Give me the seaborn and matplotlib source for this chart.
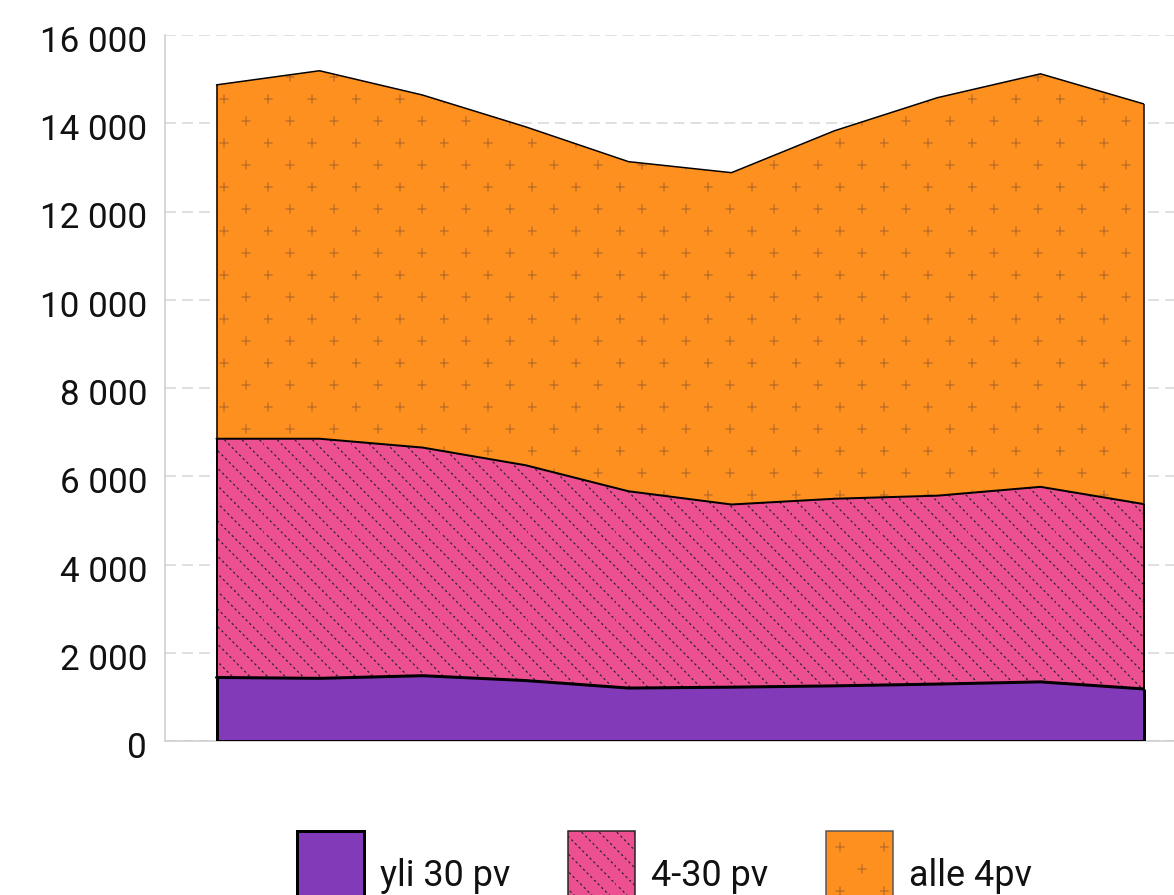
import numpy as np
import pandas as pd
import matplotlib
matplotlib.use("Agg")
import matplotlib.pyplot as plt
import matplotlib.hatch as mhatch
import matplotlib.transforms as mtransforms
from matplotlib.path import Path
from matplotlib.patches import Patch, Rectangle
from matplotlib.legend_handler import HandlerPatch
from matplotlib.ticker import FuncFormatter, FixedLocator, NullLocator
from matplotlib.colors import to_rgba
import seaborn as sns

# ---------------- data ----------------
periods = list(range(1, 11))
series_names = ["yli 30 pv", "4-30 pv", "alle 4pv"]
yli30 = [1440, 1420, 1480, 1370, 1200, 1220, 1250, 1290, 1340, 1180]
d4_30 = [5410, 5430, 5170, 4880, 4460, 4140, 4240, 4270, 4420, 4190]
alle4 = [8020, 8340, 7990, 7670, 7470, 7520, 8340, 9020, 9360, 9070]
y_ticks = [0, 2000, 4000, 6000, 8000, 10000, 12000, 14000, 16000]

# ---------------- style ----------------
fill_colors = ["#823AB9", "#EC5090", "#FE901F"]
hatches = [None, "\\", "*"]
hatch_colors = ["#000000", "#2b2430", "#B96B26"]
DPI = 88
TILE = int(DPI)
PX = 72.0 / DPI  # points per pixel
outline_px = [3.0, 2.0, 1.5]


# custom hatch patterns (small staggered plus signs / dotted diagonals)
class PlusHatch(mhatch.HatchPatternBase):
    centers = [(4, 11), (48, 11), (26, 33), (70, 33),
               (4, 55), (48, 55), (26, 77), (70, 77)]
    arm = 4.0

    def __init__(self, hatch, density):
        self.num_vertices = 4 * len(self.centers) if "*" in hatch else 0

    def set_vertices_and_codes(self, vertices, codes):
        pts = []
        a = self.arm
        for cx, cy in self.centers:
            pts += [(cx - a, cy), (cx + a, cy), (cx, cy - a), (cx, cy + a)]
        pts = np.array(pts, dtype=float) / TILE
        vertices[:, 0] = pts[:, 0]
        vertices[:, 1] = 1.0 - pts[:, 1]
        codes[0::2] = Path.MOVETO
        codes[1::2] = Path.LINETO


class DotDiagHatch(mhatch.HatchPatternBase):
    n_lines = 5
    n_dots = 24
    shift = 13.4

    def __init__(self, hatch, density):
        self.num_vertices = 2 * self.n_lines * self.n_dots if "\\" in hatch else 0

    def set_vertices_and_codes(self, vertices, codes):
        pts = []
        for k in range(self.n_lines):
            for j in range(self.n_dots):
                py = j * TILE / self.n_dots + 0.3
                px = (py + self.shift + k * TILE / self.n_lines) % TILE
                pts += [(px, py), (px + 0.8, py + 0.8)]
        pts = np.array(pts, dtype=float) / TILE
        vertices[:, 0] = pts[:, 0]
        vertices[:, 1] = 1.0 - pts[:, 1]
        codes[0::2] = Path.MOVETO
        codes[1::2] = Path.LINETO


mhatch._hatch_types = [mhatch.HorizontalHatch, mhatch.VerticalHatch,
                       mhatch.NorthEastHatch, DotDiagHatch,
                       mhatch.SmallCircles, mhatch.LargeCircles,
                       mhatch.SmallFilledCircles, PlusHatch]

sns.set_theme(style="white")
plt.rcParams["font.family"] = ["Roboto", "DejaVu Sans"]
plt.rcParams["hatch.linewidth"] = 1.0

W, H = 1174, 895
fig = plt.figure(figsize=(W / DPI, H / DPI), dpi=DPI)
ax = fig.add_axes([165 / W, 1 - 741 / H, 1030 / W, 706 / H])

x = np.arange(len(periods))
values = [np.array(yli30), np.array(d4_30), np.array(alle4)]
lowers, uppers = [], []
base = np.zeros(len(periods))
for v in values:
    lowers.append(base.copy())
    base = base + v
    uppers.append(base.copy())


def set_hatch_color(artist, color):
    if hasattr(artist, "set_hatchcolor"):
        try:
            artist.set_hatchcolor(color)
            return
        except Exception:
            pass
    artist._hatch_color = to_rgba(color)


# fills (drawn top series first)
for i in [2, 1, 0]:
    coll = ax.fill_between(x, lowers[i], uppers[i], facecolor=fill_colors[i],
                           edgecolor="none", linewidth=0, hatch=hatches[i],
                           zorder=2)
    set_hatch_color(coll, hatch_colors[i])

# outlines
for i in [2, 1, 0]:
    lw = outline_px[i] * PX
    df = pd.DataFrame({"x": x, "y": uppers[i]})
    sns.lineplot(data=df, x="x", y="y", color="black", linewidth=lw, ax=ax,
                 zorder=4 + (2 - i), legend=False)
    ax.vlines([x[0], x[-1]], [lowers[i][0], lowers[i][-1]],
              [uppers[i][0], uppers[i][-1]], color="black", linewidth=lw,
              zorder=4 + (2 - i))
ax.plot([x[0], x[-1]], [0, 0], color="black", linewidth=outline_px[0] * PX,
        zorder=7, solid_capstyle="projecting")

# axes styling
ax.set_xlim(-0.5, 9.5)
ax.set_ylim(0, 16000)
ax.set_xlabel("")
ax.set_ylabel("")
ax.xaxis.set_major_locator(NullLocator())
ax.yaxis.set_major_locator(FixedLocator(y_ticks))
ax.yaxis.set_major_formatter(FuncFormatter(lambda v, p: f"{int(v):,}".replace(",", " ")))
ax.set_axisbelow(True)
ax.yaxis.grid(True, color="#d6d6d6", linewidth=1.5 * PX,
              linestyle=(0, (7.3, 4.0)))
ax.xaxis.grid(False)
for s in ["top", "right"]:
    ax.spines[s].set_visible(False)
for s in ["left", "bottom"]:
    ax.spines[s].set_color("#cccccc")
    ax.spines[s].set_linewidth(1.5 * PX)
ax.tick_params(axis="y", length=0, pad=18 * PX, labelsize=35 * PX,
               labelcolor="#111111")
off = mtransforms.ScaledTranslation(0, -4 / DPI, fig.dpi_scale_trans)
for lab in ax.get_yticklabels():
    lab.set_transform(lab.get_transform() + off)

# legend
edge_cols = ["#000000", "#222222", "#555555"]
edge_w = [3.0 * PX, 1.5 * PX, 1.5 * PX]
handles = [Patch(facecolor=fill_colors[i], edgecolor=edge_cols[i],
                 linewidth=edge_w[i], hatch=hatches[i]) for i in range(3)]

BOX = 67 * PX      # square handle size (points)
BELOW = 12 * PX    # handle extends this far below the text baseline


def square_patch(legend, orig_handle, xdescent, ydescent, width, height, fontsize):
    return Rectangle(xy=(-xdescent, -BELOW), width=BOX, height=BOX)


fs = 36 * PX
leg = fig.legend(handles, series_names, loc="upper center",
                 bbox_to_anchor=(0.566, 1 - 831 / H), ncol=3, frameon=False,
                 fontsize=fs, handlelength=67 / 36, handleheight=3.46,
                 handletextpad=0.45, columnspacing=1.6, borderpad=0,
                 borderaxespad=0,
                 handler_map={Patch: HandlerPatch(patch_func=square_patch)})
for h, c in zip(leg.legend_handles, hatch_colors):
    set_hatch_color(h, c)
for t in leg.get_texts():
    t.set_color("#111111")

fig.savefig("out.png", dpi=DPI)
